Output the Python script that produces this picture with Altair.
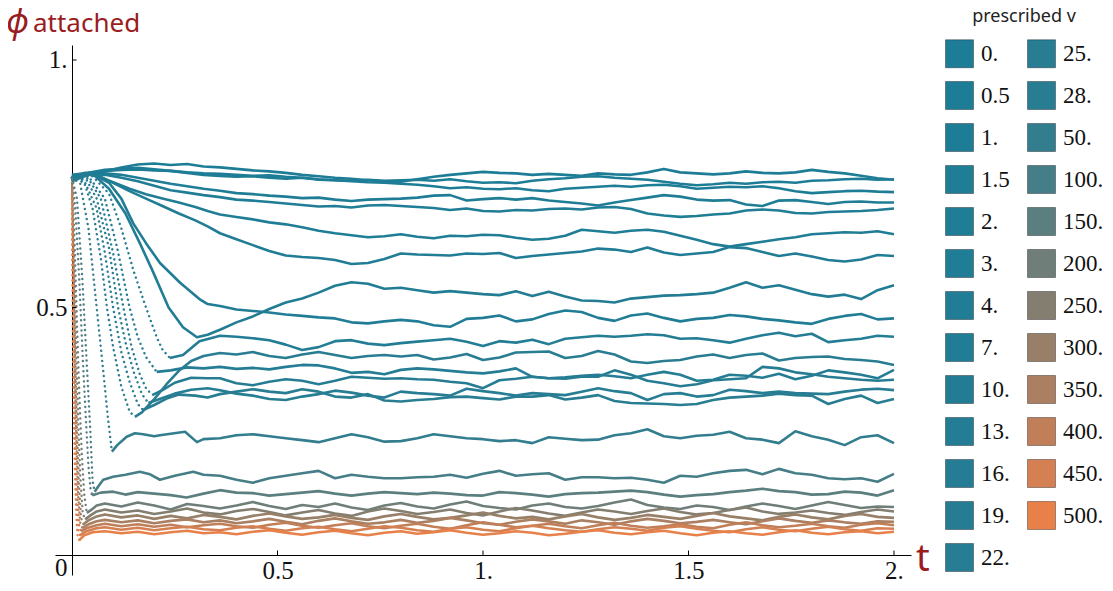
import altair as alt
import pandas as pd

# ---------------- data ----------------
V_LABELS = ["0.", "0.5", "1.", "1.5", "2.", "3.", "4.", "7.", "10.", "13.", "16.", "19.", "22.",
            "25.", "28.", "50.", "100.", "150.", "200.", "250.", "300.", "350.", "400.", "450.", "500."]
V_VALUES = [0, 0.5, 1, 1.5, 2, 3, 4, 7, 10, 13, 16, 19, 22, 25, 28, 50, 100, 150, 200, 250, 300, 350, 400, 450, 500]

# common time grid for the late part of every run
LATE_T = [round(0.36 + 0.04 * k, 2) for k in range(42)]

X_TICKS = [0.5, 1, 1.5, 2]
Y_TICKS = [0, 0.5, 1]

# early (transient) points (t, phi)
E_0 = [(0, 0.765), (0.04, 0.768), (0.08, 0.775), (0.12, 0.783), (0.16, 0.789), (0.2, 0.791), (0.24, 0.788), (0.28, 0.79), (0.32, 0.785)]
E_05 = [(0, 0.762), (0.04, 0.772), (0.08, 0.778), (0.12, 0.78), (0.16, 0.782), (0.2, 0.779), (0.24, 0.776), (0.28, 0.773), (0.32, 0.771)]
E_1 = [(0, 0.768), (0.04, 0.772), (0.08, 0.776), (0.12, 0.778), (0.16, 0.779), (0.2, 0.777), (0.24, 0.776), (0.28, 0.772), (0.32, 0.768)]
E_15 = [(0, 0.755), (0.04, 0.768), (0.08, 0.771), (0.12, 0.768), (0.16, 0.762), (0.2, 0.756), (0.24, 0.75), (0.28, 0.745), (0.32, 0.74)]
E_2 = [(0, 0.758), (0.04, 0.77), (0.08, 0.768), (0.12, 0.762), (0.16, 0.755), (0.2, 0.746), (0.24, 0.737), (0.28, 0.732), (0.32, 0.727)]
E_3 = [(0, 0.76), (0.03, 0.77), (0.06, 0.765), (0.1, 0.753), (0.14, 0.74), (0.18, 0.729), (0.22, 0.72), (0.26, 0.712), (0.3, 0.703), (0.33, 0.695)]
E_4 = [(0, 0.762), (0.03, 0.772), (0.06, 0.768), (0.1, 0.752), (0.14, 0.735), (0.18, 0.72), (0.22, 0.705), (0.26, 0.69), (0.3, 0.676), (0.33, 0.664)]
E_7 = [(0, 0.762), (0.05, 0.77), (0.09, 0.752), (0.12, 0.72), (0.149, 0.67), (0.18, 0.63), (0.214, 0.59), (0.263, 0.55), (0.31, 0.517), (0.33, 0.507)]
E_10 = [(0, 0.762), (0.05, 0.77), (0.09, 0.74), (0.13, 0.69), (0.165, 0.63), (0.195, 0.576), (0.235, 0.5), (0.27, 0.46), (0.304, 0.44), (0.33, 0.445)]
E_13 = [(0, 0.762), (0.05, 0.765), (0.09, 0.73), (0.12, 0.66), (0.149, 0.576), (0.18, 0.5), (0.206, 0.44), (0.22, 0.415), (0.238, 0.398), (0.27, 0.404), (0.31, 0.432)]
E_16 = [(0, 0.762), (0.04, 0.765), (0.08, 0.72), (0.11, 0.62), (0.14, 0.5), (0.16, 0.44), (0.18, 0.4), (0.206, 0.37), (0.24, 0.373), (0.28, 0.379), (0.32, 0.377)]
E_19 = [(0, 0.762), (0.04, 0.76), (0.07, 0.72), (0.1, 0.61), (0.125, 0.5), (0.145, 0.42), (0.165, 0.365), (0.18, 0.337), (0.195, 0.323), (0.22, 0.333), (0.25, 0.348), (0.29, 0.358), (0.33, 0.357)]
E_22 = [(0, 0.762), (0.035, 0.758), (0.06, 0.72), (0.09, 0.62), (0.112, 0.5), (0.13, 0.43), (0.15, 0.37), (0.17, 0.325), (0.186, 0.307), (0.21, 0.314), (0.25, 0.326), (0.29, 0.334), (0.33, 0.337)]
E_25 = [(0, 0.762), (0.03, 0.756), (0.06, 0.7), (0.08, 0.61), (0.1, 0.5), (0.12, 0.41), (0.14, 0.35), (0.16, 0.305), (0.173, 0.293), (0.2, 0.303), (0.23, 0.316), (0.26, 0.324), (0.3, 0.322), (0.33, 0.318)]
E_28 = [(0, 0.762), (0.03, 0.752), (0.05, 0.7), (0.07, 0.6), (0.085, 0.5), (0.1, 0.42), (0.12, 0.34), (0.14, 0.29), (0.153, 0.279), (0.17, 0.288), (0.2, 0.315), (0.23, 0.345), (0.26, 0.372), (0.29, 0.392), (0.32, 0.402)]
E_50 = [(0, 0.762), (0.02, 0.75), (0.04, 0.66), (0.06, 0.5), (0.075, 0.38), (0.087, 0.28), (0.097, 0.209), (0.11, 0.222), (0.133, 0.239), (0.153, 0.246), (0.173, 0.244), (0.2, 0.24), (0.214, 0.242), (0.24, 0.245), (0.275, 0.249), (0.304, 0.228), (0.32, 0.234)]
E_100 = [(0, 0.762), (0.012, 0.72), (0.025, 0.56), (0.035, 0.4), (0.044, 0.26), (0.05, 0.15), (0.055, 0.128), (0.065, 0.14), (0.076, 0.152), (0.1, 0.158), (0.13, 0.162), (0.165, 0.168), (0.19, 0.163), (0.214, 0.152), (0.25, 0.16), (0.295, 0.168), (0.32, 0.162)]
E_150 = [(0, 0.762), (0.008, 0.7), (0.018, 0.55), (0.026, 0.4), (0.034, 0.27), (0.04, 0.18), (0.046, 0.125), (0.052, 0.121), (0.07, 0.126), (0.1, 0.128), (0.13, 0.122), (0.16, 0.127), (0.2, 0.124), (0.24, 0.121), (0.279, 0.116), (0.32, 0.124)]
E_200 = [(0, 0.76), (0.006, 0.64), (0.012, 0.47), (0.018, 0.32), (0.024, 0.2), (0.03, 0.12), (0.036, 0.085), (0.045, 0.09), (0.06, 0.1), (0.08, 0.104), (0.12, 0.098), (0.16, 0.106), (0.2, 0.1), (0.24, 0.092), (0.28, 0.103), (0.32, 0.099)]
E_250 = [(0, 0.758), (0.005, 0.6), (0.01, 0.42), (0.015, 0.27), (0.02, 0.16), (0.026, 0.085), (0.032, 0.072), (0.045, 0.08), (0.06, 0.088), (0.08, 0.092), (0.12, 0.086), (0.16, 0.09), (0.2, 0.083), (0.24, 0.088), (0.28, 0.094), (0.32, 0.086)]
E_300 = [(0, 0.752), (0.004, 0.57), (0.008, 0.39), (0.012, 0.25), (0.017, 0.14), (0.022, 0.075), (0.028, 0.062), (0.04, 0.07), (0.06, 0.078), (0.08, 0.082), (0.12, 0.076), (0.16, 0.08), (0.2, 0.073), (0.24, 0.079), (0.28, 0.074), (0.32, 0.081)]
E_350 = [(0, 0.745), (0.004, 0.55), (0.007, 0.37), (0.011, 0.22), (0.015, 0.12), (0.02, 0.065), (0.025, 0.055), (0.04, 0.062), (0.06, 0.068), (0.08, 0.071), (0.12, 0.066), (0.16, 0.07), (0.2, 0.064), (0.24, 0.069), (0.28, 0.072), (0.32, 0.066)]
E_400 = [(0, 0.74), (0.003, 0.52), (0.006, 0.33), (0.01, 0.19), (0.014, 0.1), (0.018, 0.055), (0.022, 0.048), (0.035, 0.054), (0.06, 0.06), (0.08, 0.063), (0.12, 0.058), (0.16, 0.062), (0.2, 0.057), (0.24, 0.061), (0.28, 0.056), (0.32, 0.06)]
E_450 = [(0, 0.73), (0.003, 0.48), (0.006, 0.29), (0.009, 0.16), (0.012, 0.085), (0.016, 0.045), (0.02, 0.04), (0.035, 0.048), (0.06, 0.054), (0.08, 0.056), (0.12, 0.051), (0.16, 0.055), (0.2, 0.05), (0.24, 0.054), (0.28, 0.057), (0.32, 0.052)]
E_500 = [(0, 0.72), (0.002, 0.45), (0.005, 0.26), (0.008, 0.14), (0.011, 0.07), (0.014, 0.035), (0.018, 0.03), (0.03, 0.04), (0.05, 0.046), (0.08, 0.048), (0.12, 0.044), (0.16, 0.047), (0.2, 0.042), (0.24, 0.046), (0.28, 0.049), (0.32, 0.044)]

# late values on LATE_T
L_0 = [0.783, 0.78, 0.777, 0.775, 0.772, 0.768, 0.765, 0.762, 0.76, 0.757, 0.755,
       0.754, 0.759, 0.764, 0.768, 0.771, 0.774, 0.772, 0.771, 0.768, 0.770, 0.768, 0.766, 0.771, 0.769, 0.768,
       0.773, 0.780, 0.773, 0.771, 0.769, 0.771, 0.775, 0.772, 0.771, 0.773, 0.778, 0.774, 0.771, 0.766, 0.761, 0.758]
L_05 = [0.77, 0.768, 0.766, 0.767, 0.764, 0.762, 0.758, 0.757, 0.756, 0.758, 0.756,
        0.757, 0.758, 0.756, 0.759, 0.755, 0.752, 0.753, 0.751, 0.756, 0.759, 0.761, 0.764, 0.765, 0.762, 0.760,
        0.758, 0.754, 0.750, 0.747, 0.749, 0.752, 0.750, 0.753, 0.754, 0.752, 0.756, 0.757, 0.759, 0.760, 0.758, 0.759]
L_1 = [0.766, 0.764, 0.765, 0.762, 0.76, 0.762, 0.759, 0.757, 0.755, 0.753, 0.752,
       0.750, 0.748, 0.745, 0.741, 0.743, 0.740, 0.739, 0.741, 0.737, 0.735, 0.740, 0.742, 0.744, 0.746, 0.744,
       0.747, 0.748, 0.745, 0.740, 0.742, 0.744, 0.743, 0.745, 0.741, 0.735, 0.731, 0.733, 0.735, 0.736, 0.734, 0.733]
L_15 = [0.736, 0.731, 0.729, 0.726, 0.724, 0.721, 0.722, 0.718, 0.715, 0.718, 0.719,
        0.720, 0.722, 0.726, 0.727, 0.716, 0.719, 0.721, 0.718, 0.721, 0.716, 0.713, 0.710, 0.706, 0.712, 0.717,
        0.722, 0.727, 0.724, 0.718, 0.716, 0.717, 0.708, 0.705, 0.716, 0.717, 0.713, 0.709, 0.713, 0.714, 0.712, 0.712]
L_2 = [0.723, 0.718, 0.716, 0.713, 0.71, 0.707, 0.704, 0.705, 0.702, 0.706, 0.707,
       0.705, 0.703, 0.701, 0.697, 0.700, 0.695, 0.694, 0.697, 0.696, 0.699, 0.700, 0.698, 0.702, 0.703, 0.699,
       0.690, 0.686, 0.683, 0.685, 0.688, 0.690, 0.696, 0.698, 0.696, 0.691, 0.690, 0.693, 0.694, 0.695, 0.697, 0.700]
L_3 = [0.688, 0.683, 0.678, 0.672, 0.668, 0.662, 0.655, 0.65, 0.646, 0.642, 0.644,
       0.648, 0.643, 0.640, 0.645, 0.644, 0.647, 0.646, 0.641, 0.637, 0.639, 0.645, 0.657, 0.654, 0.651, 0.655,
       0.657, 0.653, 0.645, 0.637, 0.628, 0.623, 0.628, 0.633, 0.638, 0.642, 0.648, 0.650, 0.652, 0.651, 0.654, 0.648]
L_4 = [0.65, 0.638, 0.626, 0.614, 0.605, 0.602, 0.600, 0.596, 0.588, 0.59, 0.598,
       0.609, 0.607, 0.606, 0.605, 0.609, 0.608, 0.610, 0.600, 0.604, 0.607, 0.610, 0.613, 0.619, 0.617, 0.612,
       0.621, 0.611, 0.606, 0.609, 0.612, 0.622, 0.620, 0.612, 0.604, 0.609, 0.603, 0.596, 0.593, 0.597, 0.606, 0.604]
L_7 = [0.503, 0.496, 0.493, 0.49, 0.486, 0.483, 0.48, 0.478, 0.47, 0.468, 0.472,
       0.475, 0.472, 0.464, 0.461, 0.477, 0.479, 0.484, 0.472, 0.476, 0.487, 0.494, 0.491, 0.479, 0.473, 0.484,
       0.488, 0.479, 0.472, 0.477, 0.479, 0.485, 0.482, 0.477, 0.474, 0.470, 0.467, 0.477, 0.483, 0.487, 0.476, 0.478]
L_10 = [0.455, 0.47, 0.482, 0.497, 0.51, 0.518, 0.53, 0.544, 0.551, 0.548, 0.538,
        0.540, 0.535, 0.530, 0.533, 0.530, 0.527, 0.525, 0.533, 0.523, 0.532, 0.522, 0.514, 0.513, 0.510, 0.518,
        0.521, 0.524, 0.525, 0.527, 0.530, 0.540, 0.551, 0.540, 0.545, 0.536, 0.527, 0.522, 0.526, 0.517, 0.535, 0.545]
L_13 = [0.443, 0.441, 0.438, 0.434, 0.425, 0.414, 0.42, 0.432, 0.434, 0.427, 0.424,
        0.428, 0.431, 0.434, 0.437, 0.431, 0.422, 0.432, 0.429, 0.435, 0.426, 0.437, 0.440, 0.443, 0.441, 0.443,
        0.446, 0.444, 0.437, 0.438, 0.434, 0.429, 0.437, 0.444, 0.449, 0.442, 0.447, 0.430, 0.434, 0.437, 0.443, 0.441]
L_16 = [0.38, 0.376, 0.378, 0.375, 0.38, 0.384, 0.383, 0.377, 0.368, 0.37, 0.365,
        0.374, 0.377, 0.375, 0.372, 0.369, 0.367, 0.371, 0.377, 0.360, 0.357, 0.359, 0.362, 0.364, 0.361, 0.357,
        0.364, 0.370, 0.364, 0.352, 0.354, 0.364, 0.362, 0.358, 0.366, 0.355, 0.362, 0.373, 0.369, 0.364, 0.357, 0.374]
L_19 = [0.357, 0.347, 0.343, 0.35, 0.355, 0.352, 0.345, 0.352, 0.36, 0.358, 0.356,
        0.357, 0.355, 0.354, 0.350, 0.347, 0.337, 0.353, 0.356, 0.360, 0.357, 0.356, 0.360, 0.360, 0.373, 0.364,
        0.352, 0.347, 0.341, 0.345, 0.353, 0.355, 0.357, 0.380, 0.377, 0.369, 0.365, 0.360, 0.357, 0.354, 0.352, 0.354]
L_22 = [0.333, 0.326, 0.322, 0.315, 0.313, 0.32, 0.325, 0.332, 0.328, 0.322, 0.318,
        0.330, 0.327, 0.325, 0.322, 0.336, 0.331, 0.327, 0.322, 0.327, 0.325, 0.323, 0.330, 0.337, 0.331, 0.327,
        0.313, 0.325, 0.327, 0.320, 0.323, 0.334, 0.331, 0.327, 0.330, 0.327, 0.326, 0.325, 0.330, 0.334, 0.336, 0.333]
L_25 = [0.325, 0.33, 0.335, 0.33, 0.327, 0.335, 0.33, 0.32, 0.318, 0.325, 0.312,
        0.310, 0.313, 0.315, 0.319, 0.320, 0.317, 0.314, 0.320, 0.320, 0.323, 0.314, 0.318, 0.323, 0.311, 0.307,
        0.306, 0.305, 0.303, 0.305, 0.313, 0.318, 0.320, 0.322, 0.326, 0.323, 0.322, 0.305, 0.315, 0.322, 0.307, 0.315]
L_28 = [0.408, 0.405, 0.41, 0.402, 0.398, 0.405, 0.41, 0.404, 0.398, 0.402, 0.404,
        0.401, 0.404, 0.395, 0.399, 0.406, 0.394, 0.399, 0.409, 0.410, 0.411, 0.398, 0.402, 0.412, 0.405, 0.391,
        0.388, 0.392, 0.394, 0.401, 0.405, 0.398, 0.404, 0.407, 0.393, 0.398, 0.400, 0.401, 0.396, 0.394, 0.391, 0.384]
L_50 = [0.236, 0.242, 0.244, 0.24, 0.236, 0.232, 0.228, 0.236, 0.244, 0.238, 0.229,
        0.230, 0.236, 0.244, 0.240, 0.236, 0.234, 0.230, 0.232, 0.226, 0.238, 0.235, 0.232, 0.233, 0.242, 0.246,
        0.254, 0.240, 0.236, 0.241, 0.243, 0.249, 0.236, 0.233, 0.226, 0.250, 0.240, 0.233, 0.222, 0.238, 0.242, 0.226]
L_100 = [0.16, 0.152, 0.146, 0.155, 0.16, 0.165, 0.17, 0.155, 0.162, 0.158, 0.155,
         0.155, 0.157, 0.158, 0.162, 0.156, 0.164, 0.170, 0.160, 0.163, 0.165, 0.152, 0.157, 0.157, 0.155, 0.156,
         0.152, 0.146, 0.160, 0.158, 0.165, 0.170, 0.172, 0.163, 0.174, 0.165, 0.162, 0.155, 0.153, 0.155, 0.148, 0.164]
L_150 = [0.131, 0.126, 0.125, 0.12, 0.123, 0.126, 0.129, 0.124, 0.12, 0.124, 0.127,
         0.125, 0.123, 0.126, 0.124, 0.121, 0.120, 0.127, 0.125, 0.122, 0.118, 0.123, 0.125, 0.126, 0.128, 0.130,
         0.127, 0.122, 0.118, 0.121, 0.123, 0.127, 0.130, 0.134, 0.129, 0.127, 0.122, 0.123, 0.128, 0.126, 0.120, 0.131]
L_200 = [0.094, 0.1, 0.107, 0.099, 0.093, 0.101, 0.097, 0.104, 0.096, 0.091, 0.1, 0.105, 0.098, 0.094,
         0.102, 0.108, 0.099, 0.095, 0.092, 0.1, 0.104, 0.097, 0.094, 0.099, 0.106, 0.112, 0.101, 0.096,
         0.093, 0.1, 0.097, 0.091, 0.098, 0.104, 0.099, 0.093, 0.1, 0.107, 0.101, 0.095, 0.098, 0.097]
L_250 = [0.082, 0.089, 0.093, 0.087, 0.08, 0.086, 0.091, 0.084, 0.079, 0.088, 0.094, 0.089, 0.083, 0.087,
         0.092, 0.085, 0.08, 0.088, 0.095, 0.09, 0.084, 0.079, 0.086, 0.092, 0.088, 0.083, 0.089, 0.094,
         0.087, 0.082, 0.085, 0.091, 0.096, 0.088, 0.083, 0.086, 0.09, 0.085, 0.081, 0.087, 0.092, 0.088]
L_300 = [0.077, 0.072, 0.079, 0.084, 0.078, 0.073, 0.076, 0.081, 0.075, 0.071, 0.078, 0.083, 0.077, 0.072,
         0.075, 0.08, 0.086, 0.079, 0.074, 0.077, 0.072, 0.078, 0.083, 0.076, 0.071, 0.075, 0.081, 0.077,
         0.073, 0.079, 0.085, 0.078, 0.074, 0.07, 0.077, 0.082, 0.076, 0.072, 0.079, 0.083, 0.077, 0.075]
L_350 = [0.07, 0.064, 0.068, 0.073, 0.067, 0.062, 0.069, 0.074, 0.068, 0.063, 0.066, 0.071, 0.065, 0.069,
         0.075, 0.07, 0.064, 0.061, 0.067, 0.072, 0.068, 0.063, 0.07, 0.066, 0.061, 0.068, 0.073, 0.069,
         0.064, 0.067, 0.071, 0.066, 0.062, 0.068, 0.074, 0.069, 0.065, 0.07, 0.066, 0.063, 0.068, 0.067]
L_400 = [0.063, 0.058, 0.055, 0.061, 0.065, 0.059, 0.055, 0.06, 0.064, 0.058, 0.054, 0.059, 0.063, 0.057,
         0.053, 0.06, 0.066, 0.061, 0.056, 0.059, 0.063, 0.058, 0.054, 0.06, 0.065, 0.059, 0.055, 0.058,
         0.062, 0.057, 0.054, 0.061, 0.066, 0.06, 0.056, 0.059, 0.063, 0.058, 0.055, 0.061, 0.064, 0.06]
L_450 = [0.05, 0.055, 0.058, 0.053, 0.049, 0.054, 0.057, 0.052, 0.048, 0.053, 0.058, 0.055, 0.05, 0.047,
         0.053, 0.056, 0.051, 0.048, 0.054, 0.059, 0.054, 0.05, 0.047, 0.052, 0.056, 0.053, 0.049, 0.055,
         0.058, 0.053, 0.049, 0.046, 0.052, 0.056, 0.051, 0.048, 0.053, 0.057, 0.052, 0.049, 0.054, 0.053]
L_500 = [0.046, 0.042, 0.047, 0.05, 0.045, 0.041, 0.046, 0.049, 0.044, 0.04, 0.045, 0.048, 0.043, 0.046,
         0.05, 0.045, 0.041, 0.044, 0.048, 0.045, 0.04, 0.043, 0.047, 0.05, 0.045, 0.042, 0.046, 0.049,
         0.044, 0.04, 0.045, 0.048, 0.044, 0.041, 0.046, 0.05, 0.045, 0.042, 0.046, 0.048, 0.044, 0.047]

# end time of the sparsely sampled (dotted-looking) transient of each run
DOT_END = {"13.": 0.238, "16.": 0.206, "19.": 0.195, "22.": 0.186, "25.": 0.173, "28.": 0.153,
           "50.": 0.097, "100.": 0.055, "150.": 0.046, "200.": 0.036, "250.": 0.032, "300.": 0.028,
           "350.": 0.025, "400.": 0.022, "450.": 0.02, "500.": 0.018}

SERIES = {
    "0.": (E_0, L_0), "0.5": (E_05, L_05), "1.": (E_1, L_1), "1.5": (E_15, L_15), "2.": (E_2, L_2),
    "3.": (E_3, L_3), "4.": (E_4, L_4), "7.": (E_7, L_7), "10.": (E_10, L_10), "13.": (E_13, L_13),
    "16.": (E_16, L_16), "19.": (E_19, L_19), "22.": (E_22, L_22), "25.": (E_25, L_25), "28.": (E_28, L_28),
    "50.": (E_50, L_50), "100.": (E_100, L_100), "150.": (E_150, L_150), "200.": (E_200, L_200),
    "250.": (E_250, L_250), "300.": (E_300, L_300), "350.": (E_350, L_350), "400.": (E_400, L_400),
    "450.": (E_450, L_450), "500.": (E_500, L_500),
}

# ---------------- build tables ----------------
TEAL = (30, 125, 150)
ORANGE = (232, 128, 74)


def mix(v):
    f = v / 500.0
    r, g, b = (round(TEAL[i] + (ORANGE[i] - TEAL[i]) * f) for i in range(3))
    return f"#{r:02x}{g:02x}{b:02x}"


COLORS = [mix(v) for v in V_VALUES]

rows = []
for lab in V_LABELS:
    early, late = SERIES[lab]
    assert len(late) == len(LATE_T), lab
    pts = list(early) + list(zip(LATE_T, late))
    de = DOT_END.get(lab, 0.0)
    for t, p in pts:
        if de > 0 and t <= de + 1e-9:
            rows.append({"v": lab, "t": t, "phi": p, "seg": "dot"})
        if t >= de - 1e-9:
            rows.append({"v": lab, "t": t, "phi": p, "seg": "solid"})
df = pd.DataFrame(rows)
df_solid = df[df.seg == "solid"]
df_dot = df[df.seg == "dot"]

df_leg = pd.DataFrame({"v": V_LABELS, "t": [0.0] * len(V_LABELS), "phi": [SERIES[l][0][0][1] for l in V_LABELS]})

# ---------------- chart ----------------
W, H = 856, 530
XMIN, XMAX = -0.0414, 2.0414
YMIN, YMAX = -0.0404, 1.0303
RED = "#9a1c1f"

xs = alt.Scale(domain=[XMIN, XMAX], nice=False, zero=False)
ys = alt.Scale(domain=[YMIN, YMAX], nice=False, zero=False)
cs = alt.Scale(domain=V_LABELS, range=COLORS)

num_expr = "datum.value % 1 === 0 ? format(datum.value, 'd') + '.' : format(datum.value, '.1f')"
x_axis = alt.Axis(values=X_TICKS, labelExpr=num_expr, offset=-20, ticks=False, tickSize=0, grid=False,
                  domainColor="black", domainWidth=1, labelFont="Liberation Serif", labelFontSize=25,
                  labelColor="#111", labelPadding=3, title=None, labelFlush=False, labelOverlap=False)
y_axis = alt.Axis(values=Y_TICKS, labelExpr="datum.value === 0 ? '0' : (" + num_expr + ")",
                  offset=-17, ticks=False, tickSize=0, grid=False,
                  domainColor="black", domainWidth=1, labelFont="Liberation Serif", labelFontSize=25,
                  labelColor="#111", labelPadding=5, title=None, labelFlush=False, labelOverlap=False,
                  labelBaseline={"condition": {"test": "datum.value === 0", "value": "top"}, "value": "middle"})

X = alt.X("t:Q", scale=xs, axis=x_axis)
Y = alt.Y("phi:Q", scale=ys, axis=y_axis)

solid = alt.Chart(df_solid).mark_line(strokeWidth=2.6, strokeJoin="round", clip=True).encode(
    x=X, y=Y, color=alt.Color("v:N", scale=cs, legend=None), detail="v:N")

dots = alt.Chart(df_dot).mark_line(strokeWidth=2.4, strokeDash=[0.1, 5], strokeCap="round", clip=True).encode(
    x=X, y=Y, color=alt.Color("v:N", scale=cs, legend=None), detail="v:N")

legend = alt.Legend(title="prescribed v", orient="none", legendX=890, legendY=-37, columns=2,
                    symbolType="square", symbolSize=784, symbolStrokeColor="rgba(0,0,0,0.35)",
                    symbolStrokeWidth=1, symbolOpacity=1,
                    labelFont="Liberation Serif", labelFontSize=23, labelColor="#111", labelOffset=7,
                    rowPadding=9, columnPadding=15, padding=0,
                    titleFont="Noto Sans", titleFontSize=18, titleFontWeight="normal", titleColor="#222",
                    titlePadding=13, titleAnchor="middle")

leg_layer = alt.Chart(df_leg).mark_point(shape="square", filled=True, size=1, opacity=1).encode(
    x=X, y=Y, color=alt.Color("v:N", scale=cs, legend=legend))

xt_df = pd.DataFrame({"t": X_TICKS})
yt_df = pd.DataFrame({"phi": [v for v in Y_TICKS if v > 0]})
xticks = alt.Chart(xt_df).mark_rule(color="black", strokeWidth=1).encode(
    x="t:Q", y=alt.datum(0), y2=alt.datum(0.009))
yticks = alt.Chart(yt_df).mark_rule(color="black", strokeWidth=1).encode(
    y="phi:Q", x=alt.datum(0), x2=alt.datum(0.011))

phi_txt = alt.Chart(pd.DataFrame({"s": ["ϕ"]})).mark_text(
    font="Noto Sans", fontSize=34, fontStyle="italic", color=RED, align="left", baseline="alphabetic"
).encode(text="s:N", x=alt.value(-49), y=alt.value(-12))
att_txt = alt.Chart(pd.DataFrame({"s": ["attached"]})).mark_text(
    font="Noto Sans", fontSize=26, color=RED, align="left", baseline="alphabetic"
).encode(text="s:N", x=alt.value(-22), y=alt.value(-13))
t_txt = alt.Chart(pd.DataFrame({"s": ["t"]})).mark_text(
    font="Noto Sans", fontSize=38, color=RED, align="left", baseline="alphabetic"
).encode(text="s:N", x=alt.value(861), y=alt.value(526))

chart = alt.layer(solid, dots, leg_layer, xticks, yticks, phi_txt, att_txt, t_txt).resolve_legend(
    color="independent"
).properties(
    width=W, height=H,
    autosize=alt.AutoSizeParams(type="none"),
    padding={"left": 47, "top": 37, "right": 194, "bottom": 12},
    background="white",
).configure_view(stroke=None)

chart.save("out.html", embed_options={"renderer": "svg", "actions": False})
